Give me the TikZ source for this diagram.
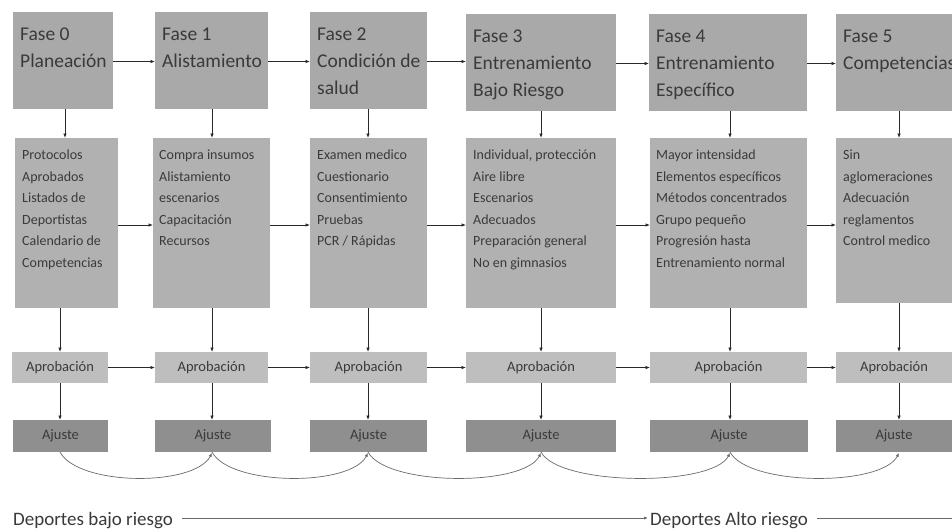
\documentclass[tikz,border=0pt]{standalone}
\usepackage{fontspec}
\setmainfont{Carlito}
\usetikzlibrary{arrows.meta,calc}
\definecolor{topgray}{HTML}{A9A9A9}
\definecolor{midgray}{HTML}{B1B1B1}
\definecolor{apgray}{HTML}{BEBEBE}
\definecolor{ajgray}{HTML}{8F8F8F}
\definecolor{txt}{HTML}{3A3A3A}
\definecolor{lin}{HTML}{2A2A2A}
\definecolor{curvcol}{HTML}{6A6A6A}
\begin{document}
\begin{tikzpicture}[x=1pt,y=-1pt,
  boxbase/.style={inner sep=0pt,outer sep=0pt,anchor=north west},
  topbox/.style={boxbase,fill=topgray,minimum height=97pt},
  midbox/.style={boxbase,fill=midgray,minimum height=170pt},
  apbox/.style={boxbase,fill=apgray,minimum height=31pt,text=txt,font=\fontsize{14.5}{16}\selectfont},
  ajbox/.style={boxbase,fill=ajgray,minimum height=32pt,text=txt,font=\fontsize{14.5}{16}\selectfont},
  toptext/.style={inner sep=0pt,anchor=north west,align=left,text=txt,font=\fontsize{19.5}{27}\selectfont},
  midtext/.style={inner sep=0pt,anchor=north west,align=left,text=txt,font=\fontsize{14}{21.5}\selectfont},
  arr/.style={draw=lin,line width=0.8pt,-{Latex[length=4.5pt,width=3.6pt]}},
  carr/.style={draw=curvcol,line width=0.7pt,-{Latex[length=4pt,width=3.2pt]}},
  bottxt/.style={inner sep=0pt,anchor=base west,text=txt,font=\fontsize{19}{22}\selectfont},
  botline/.style={draw=curvcol,line width=0.8pt}
]
\useasboundingbox (0,0) rectangle (952,528);
\fill[white] (0,0) rectangle (952,528);

% column x positions for vertical connectors
\coordinate (k0) at (65,0);
\coordinate (k1) at (212,0);
\coordinate (k2) at (368,0);
\coordinate (k3) at (541,0);
\coordinate (k4) at (730,0);
\coordinate (k5) at (899,0);
\coordinate (c0) at (60,0);
\coordinate (c1) at (212,0);
\coordinate (c2) at (368,0);
\coordinate (c3) at (541,0);
\coordinate (c4) at (730,0);
\coordinate (c5) at (899,0);

% top row
\node[topbox,minimum width=100pt] (t0) at (13,12) {};
\node[topbox,minimum width=113pt] (t1) at (155,12) {};
\node[topbox,minimum width=117pt] (t2) at (310,12) {};
\node[topbox,minimum width=150pt] (t3) at (466,14) {};
\node[topbox,minimum width=158pt] (t4) at (649,14) {};
\node[topbox,minimum width=116pt] (t5) at (836,14) {};

\node[toptext] (tt0) at ([xshift=7pt,yshift=-9pt]t0.north west) {\strut Fase 0\\Planeación};
\node[toptext] (tt1) at ([xshift=7pt,yshift=-9pt]t1.north west) {\strut Fase 1\\Alistamiento};
\node[toptext] (tt2) at ([xshift=7pt,yshift=-9pt]t2.north west) {\strut Fase 2\\Condición de\\salud};
\node[toptext] (tt3) at ([xshift=7pt,yshift=-9pt]t3.north west) {\strut Fase 3\\Entrenamiento\\Bajo Riesgo};
\node[toptext] (tt4) at ([xshift=7pt,yshift=-9pt]t4.north west) {\strut Fase 4\\Entrenamiento\\Específico};
\node[toptext] (tt5) at ([xshift=7pt,yshift=-9pt]t5.north west) {\strut Fase 5\\Competencias};

% middle row
\node[midbox,minimum width=103pt] (m0) at (15,138) {};
\node[midbox,minimum width=117pt] (m1) at (153,138) {};
\node[midbox,minimum width=117pt] (m2) at (310,138) {};
\node[midbox,minimum width=150pt] (m3) at (466,138) {};
\node[midbox,minimum width=157pt] (m4) at (650,138) {};
\node[midbox,minimum width=116pt,minimum height=165pt] (m5) at (836,138) {};

\node[midtext] (mt0) at ([xshift=7pt,yshift=-6.5pt]m0.north west) {\strut Protocolos\\Aprobados\\Listados de\\Deportistas\\Calendario de\\Competencias};
\node[midtext] (mt1) at ([xshift=6pt,yshift=-6.5pt]m1.north west) {\strut Compra insumos\\Alistamiento\\escenarios\\Capacitación\\Recursos};
\node[midtext] (mt2) at ([xshift=7pt,yshift=-6.5pt]m2.north west) {\strut Examen medico\\Cuestionario\\Consentimiento\\Pruebas\\PCR / Rápidas};
\node[midtext] (mt3) at ([xshift=7pt,yshift=-6.5pt]m3.north west) {\strut Individual, protección\\Aire libre\\Escenarios\\Adecuados\\Preparación general\\No en gimnasios};
\node[midtext] (mt4) at ([xshift=6pt,yshift=-6.5pt]m4.north west) {\strut Mayor intensidad\\Elementos específicos\\Métodos concentrados\\Grupo pequeño\\Progresión hasta\\Entrenamiento normal};
\node[midtext] (mt5) at ([xshift=7pt,yshift=-6.5pt]m5.north west) {\strut Sin\\aglomeraciones\\Adecuación\\reglamentos\\Control medico};

% approval row
\node[apbox,minimum width=96pt] (a0) at (12,352) {Aprobación};
\node[apbox,minimum width=113pt] (a1) at (155,352) {Aprobación};
\node[apbox,minimum width=117pt] (a2) at (310,352) {Aprobación};
\node[apbox,minimum width=150pt] (a3) at (466,352) {Aprobación};
\node[apbox,minimum width=157pt] (a4) at (650,352) {Aprobación};
\node[apbox,minimum width=116pt] (a5) at (836,352) {Aprobación};

% ajuste row
\node[ajbox,minimum width=95pt] (j0) at (13,420) {Ajuste};
\node[ajbox,minimum width=116pt] (j1) at (155,420) {Ajuste};
\node[ajbox,minimum width=117pt] (j2) at (310,420) {Ajuste};
\node[ajbox,minimum width=150pt] (j3) at (466,420) {Ajuste};
\node[ajbox,minimum width=158pt] (j4) at (650,420) {Ajuste};
\node[ajbox,minimum width=116pt] (j5) at (836,420) {Ajuste};

% horizontal connectors (kept level)
\foreach \i/\n in {0/1,1/2,2/3,3/4,4/5}{
  \draw[arr] ([yshift=-1pt]t\i.east) -- ([yshift=-1pt]t\i.east -| t\n.west);
  \draw[arr] ([yshift=-2pt]m\i.east) -- ([yshift=-2pt]m\i.east -| m\n.west);
  \draw[arr] (a\i.east) -- (a\n.west);
}

% vertical connectors
\foreach \i in {0,...,5}{
  \draw[arr] (t\i.south -| k\i) -- (m\i.north -| k\i);
  \draw[arr] (m\i.south -| c\i) -- (a\i.north -| c\i);
  \draw[arr] (a\i.south -| c\i) -- (j\i.north -| c\i);
}

% curved connectors under ajuste
\foreach \i/\n in {0/1,1/2,2/3,3/4,4/5}{
  \draw[carr] (j\i.south -| c\i) .. controls +(18,34) and +(-18,34) .. ([yshift=-1pt]j\n.south -| c\n);
}

% bottom line
\node[bottxt] (dl) at (13,525) {Deportes bajo riesgo};
\node[bottxt] (dh) at (650,525) {Deportes Alto riesgo};
\coordinate (rend) at (952,518);
\draw[botline,-{Latex[length=4pt,width=3.2pt]}] ([xshift=9pt,yshift=7pt]dl.base east) -- ([xshift=-2pt,yshift=7pt]dh.base west);
\draw[botline] ([xshift=9pt,yshift=7pt]dh.base east) -- (rend);
\end{tikzpicture}
\end{document}
